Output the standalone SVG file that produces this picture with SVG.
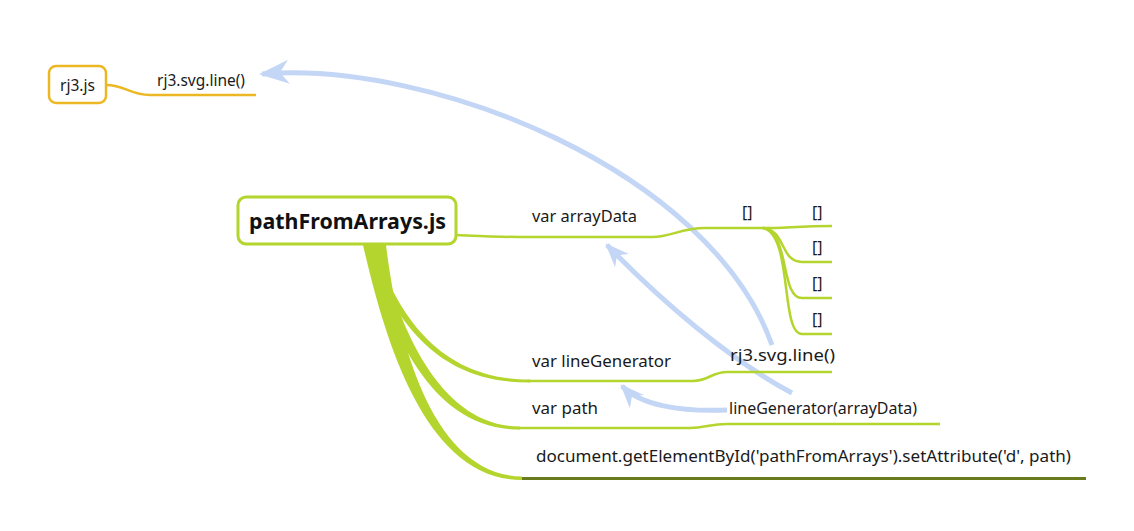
<svg xmlns="http://www.w3.org/2000/svg" width="1134" height="531" viewBox="0 0 1134 531">
<style>
.t{font-family:"Noto Sans","Open Sans","Liberation Sans",sans-serif;font-size:16px;fill:#1a1a1a}
.g{fill:none;stroke:#B4D52D;stroke-width:2.5}
.y{fill:none;stroke:#EBB823;stroke-width:2.5}
.b{fill:none;stroke:#C3D6F5;stroke-width:5}
.tb{fill:#B4D52D}
</style>
<defs>
<marker id="ah" viewBox="0 0 30 24" refX="27" refY="12" markerWidth="30" markerHeight="24" markerUnits="userSpaceOnUse" orient="auto">
<path d="M0,0 L30,12 L0,24 L9,12 Z" fill="#C3D6F5"/>
</marker>
<marker id="ah2" viewBox="0 0 30 24" refX="27" refY="12" markerWidth="24" markerHeight="20" markerUnits="userSpaceOnUse" orient="auto">
<path d="M0,0 L30,12 L0,24 L9,12 Z" fill="#C3D6F5"/>
</marker>
</defs>
<rect width="1134" height="531" fill="#fff"/>
<g id="connectors">
<path class="b" d="M772 345 C710 170 430 60 262 74" marker-end="url(#ah)"/>
<path class="b" d="M792 393 C730 360 660 300 607 245" marker-end="url(#ah2)"/>
<path class="b" d="M727 410 C680 412 640 405 622 386" marker-end="url(#ah2)"/>
<path class="y" d="M106 85 C125 85 130 95 150 95 L256 95"/>
<path class="g" d="M456 235 C480 236 500 237 520 237 L652 237 C672 237 680 228 705 228 L765 228"/>
<path class="g" d="M763 228 C785 228 800 226 832 226"/>
<path class="g" d="M763 228 C786 230 780 262 802 262 L832 262"/>
<path class="g" d="M763 228 C790 232 780 298 802 298 L832 298"/>
<path class="g" d="M763 228 C793 234 780 334 802 334 L832 334"/>
<path class="tb" d="M374 245 C397 315 440 380 530 379.5 L530 382.5 C435 383 395 320 364 245 Z"/>
<path class="tb" d="M380 245 C397 325 440 427 520 426.5 L520 429.5 C430 430 390 330 366 245 Z"/>
<path class="tb" d="M386 245 C397 335 430 475 522 476.5 L522 480 C425 480 385 340 363 245 Z"/>
<path class="g" d="M528 381 L693 381 C708 381 712 372 727 372 L832 372"/>
<path class="g" d="M518 428 L690 428 C705 428 710 424 727 424 L940 424"/>
<path d="M522 478.5 L1086 478.5" fill="none" stroke="#6A7B1E" stroke-width="3"/>
</g>
<g id="rj3">
<rect x="49" y="66" width="57" height="37" rx="7" fill="#fff" stroke="#EBB823" stroke-width="2.5"/>
<text class="t" x="60" y="91" textLength="35" lengthAdjust="spacingAndGlyphs">rj3.js</text>
</g>
<g id="rj3-line"><text class="t" x="157" y="86" textLength="88" lengthAdjust="spacingAndGlyphs">rj3.svg.line()</text></g>
<g id="root">
<rect x="238" y="197" width="218" height="47" rx="8" fill="#fff" stroke="#B4D52D" stroke-width="3"/>
<text x="249" y="229" textLength="197" lengthAdjust="spacingAndGlyphs" font-family="'Noto Sans','Open Sans','Liberation Sans',sans-serif" font-size="21" font-weight="bold" fill="#111">pathFromArrays.js</text>
</g>
<g id="arrayData"><text class="t" x="532" y="222" textLength="105" lengthAdjust="spacingAndGlyphs">var arrayData</text></g>
<g id="arr"><text class="t" x="742" y="218">[]</text></g>
<g id="arr1"><text class="t" x="812" y="218">[]</text></g>
<g id="arr2"><text class="t" x="812" y="253">[]</text></g>
<g id="arr3"><text class="t" x="812" y="289">[]</text></g>
<g id="arr4"><text class="t" x="812" y="325">[]</text></g>
<g id="lineGenerator"><text class="t" x="532" y="367" textLength="139" lengthAdjust="spacingAndGlyphs">var lineGenerator</text></g>
<g id="svgline"><text class="t" x="730" y="361" textLength="105" lengthAdjust="spacingAndGlyphs">rj3.svg.line()</text></g>
<g id="path"><text class="t" x="532" y="414" textLength="66" lengthAdjust="spacingAndGlyphs">var path</text></g>
<g id="lgcall"><text class="t" x="729" y="414" textLength="188" lengthAdjust="spacingAndGlyphs">lineGenerator(arrayData)</text></g>
<g id="doc"><text class="t" x="536" y="462" textLength="535" lengthAdjust="spacingAndGlyphs">document.getElementById('pathFromArrays').setAttribute('d', path)</text></g>
</svg>
